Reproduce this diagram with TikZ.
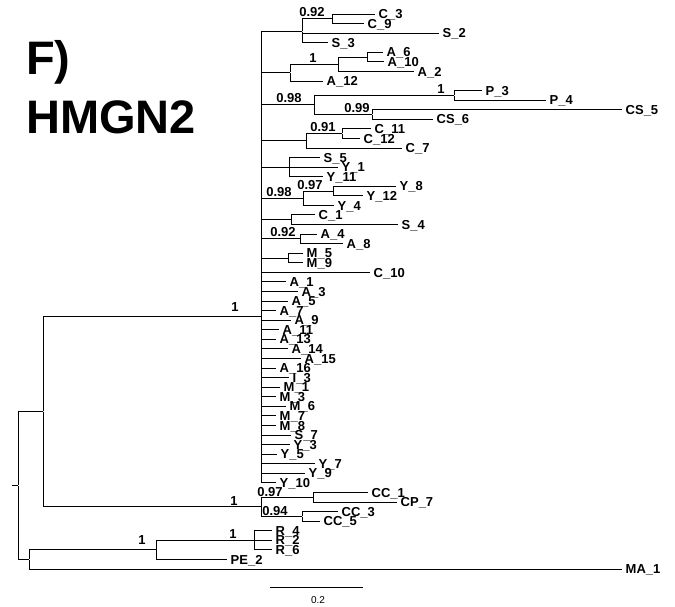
\documentclass[tikz,border=0pt]{standalone}
\usepackage{fontspec}
\setmainfont{Liberation Sans}
\usetikzlibrary{positioning}

\begin{document}
\begin{tikzpicture}[
  x=1pt, y=-1pt,
  branch/.style={draw=black, line width=0.9pt},
  junction/.style={inner sep=0pt, minimum size=0pt},
  leaf/.style={anchor=west, font=\bfseries\fontsize{13}{13}\selectfont, inner xsep=3.5pt, inner ysep=0pt, text height=9.3pt, text depth=0pt},
  boot/.style={font=\bfseries\fontsize{13}{13}\selectfont, inner sep=0pt},
  title/.style={font=\bfseries\fontsize{47}{47}\selectfont, inner sep=0pt, anchor=base west},
  scalelab/.style={font=\fontsize{10}{10}\selectfont, inner sep=0pt}]

\useasboundingbox (0,0) rectangle (675,607);

\node[title] (panel) at (26,75) {F)};
\node[title] (gene) at (26,134) {HMGN2};

\begin{scope}[y=-9.569pt, yshift=-4.431pt]
% tips, one row per taxon
\node[leaf] (C3) at (375,1) {C\_3};
\node[leaf] (C9) at (364,2) {C\_9};
\node[leaf] (S2) at (439,3) {S\_2};
\node[leaf] (S3) at (328,4) {S\_3};
\node[leaf] (A6) at (383,5) {A\_6};
\node[leaf] (A10) at (384,6) {A\_10};
\node[leaf] (A2) at (414,7) {A\_2};
\node[leaf] (A12) at (323,8) {A\_12};
\node[leaf] (P3) at (482,9) {P\_3};
\node[leaf] (P4) at (546,10) {P\_4};
\node[leaf] (CS5) at (622,11) {CS\_5};
\node[leaf] (CS6) at (433,12) {CS\_6};
\node[leaf] (C11) at (371,13) {C\_11};
\node[leaf] (C12) at (360,14) {C\_12};
\node[leaf] (C7) at (402,15) {C\_7};
\node[leaf] (S5) at (320,16) {S\_5};
\node[leaf] (Y1) at (338,17) {Y\_1};
\node[leaf] (Y11) at (323,18) {Y\_11};
\node[leaf] (Y8) at (396,19) {Y\_8};
\node[leaf] (Y12) at (363,20) {Y\_12};
\node[leaf] (Y4) at (334,21) {Y\_4};
\node[leaf] (C1) at (315,22) {C\_1};
\node[leaf] (S4) at (398,23) {S\_4};
\node[leaf] (A4) at (317,24) {A\_4};
\node[leaf] (A8) at (343,25) {A\_8};
\node[leaf] (M5) at (303,26) {M\_5};
\node[leaf] (M9) at (303,27) {M\_9};
\node[leaf] (C10) at (370,28) {C\_10};
\node[leaf] (A1) at (286,29) {A\_1};
\node[leaf] (A3) at (298,30) {A\_3};
\node[leaf] (A5) at (288,31) {A\_5};
\node[leaf] (A7) at (276,32) {A\_7};
\node[leaf] (A9) at (291,33) {A\_9};
\node[leaf] (A11) at (279,34) {A\_11};
\node[leaf] (A13) at (276,35) {A\_13};
\node[leaf] (A14) at (288,36) {A\_14};
\node[leaf] (A15) at (301,37) {A\_15};
\node[leaf] (A16) at (276,38) {A\_16};
\node[leaf] (I3) at (289,39) {I\_3};
\node[leaf] (M1) at (280,40) {M\_1};
\node[leaf] (M3) at (276,41) {M\_3};
\node[leaf] (M6) at (286,42) {M\_6};
\node[leaf] (M7) at (276,43) {M\_7};
\node[leaf] (M8) at (276,44) {M\_8};
\node[leaf] (S7) at (291,45) {S\_7};
\node[leaf] (Y3) at (290,46) {Y\_3};
\node[leaf] (Y5) at (277,47) {Y\_5};
\node[leaf] (Y7) at (315,48) {Y\_7};
\node[leaf] (Y9) at (305,49) {Y\_9};
\node[leaf] (Y10) at (276,50) {Y\_10};
\node[leaf] (CC1) at (368,51) {CC\_1};
\node[leaf] (CP7) at (397,52) {CP\_7};
\node[leaf] (CC3) at (338,53) {CC\_3};
\node[leaf] (CC5) at (320,54) {CC\_5};
\node[leaf] (R4) at (272,55) {R\_4};
\node[leaf] (R2) at (272,56) {R\_2};
\node[leaf] (R6) at (272,57) {R\_6};
\node[leaf] (PE2) at (227,58) {PE\_2};
\node[leaf] (MA1) at (622,59) {MA\_1};

% internal nodes
\coordinate (stub) at (12,50.27);
\node[junction] (nRoot) at (18,50.27) {};
\node[junction] (nTop) at (43,42.539) {};
\node[junction] (nRM) at (29,58) {};
\node[junction] (nMain) at (261,32.577) {};
\node[junction] (nCC) at (261,52.5) {};
\node[junction] (nCC1) at (313,51.5) {};
\node[junction] (nCC3) at (302,53.5) {};
\node[junction] (nRPE) at (156,57) {};
\node[junction] (nR) at (254,56) {};
\node[junction] (nCSS) at (302,2.833) {};
\node[junction] (nC39) at (332,1.5) {};
\node[junction] (nA12) at (290,7.125) {};
\node[junction] (nA2) at (338,6.25) {};
\node[junction] (nA610) at (367,5.5) {};
\node[junction] (nPCS) at (314,10.5) {};
\node[junction] (nP) at (454,9.5) {};
\node[junction] (nCS) at (372,11.5) {};
\node[junction] (nC7) at (306,14.25) {};
\node[junction] (nC1112) at (342,13.5) {};
\node[junction] (nY1) at (289,17) {};
\node[junction] (nY4) at (303,20.25) {};
\node[junction] (nY812) at (333,19.5) {};
\node[junction] (nS4) at (291,22.5) {};
\node[junction] (nA48) at (300,24.5) {};
\node[junction] (nM59) at (288,26.5) {};
\end{scope}

% branches
\draw[branch] (stub) -- (nRoot);
\draw[branch] (nRoot) |- (nTop) (nRoot) |- (nRM);
\draw[branch] (nTop) |- (nMain) (nTop) |- (nCC);
\draw[branch] (nRM) |- (nRPE) (nRM) |- (MA1.west);
\draw[branch] (nRPE) |- (nR) (nRPE) |- (PE2.west);
\draw[branch] (nR) |- (R4.west) (nR) |- (R2.west) (nR) |- (R6.west);
\draw[branch] (nCC) |- (nCC1) (nCC) |- (nCC3);
\draw[branch] (nCC1) |- (CC1.west) (nCC1) |- (CP7.west);
\draw[branch] (nCC3) |- (CC3.west) (nCC3) |- (CC5.west);

\draw[branch] (nMain) |- (nCSS) (nMain) |- (nA12) (nMain) |- (nPCS) (nMain) |- (nC7);
\draw[branch] (nMain) |- (nY1) (nMain) |- (nY4) (nMain) |- (nS4) (nMain) |- (nA48);
\draw[branch] (nMain) |- (nM59) (nMain) |- (C10.west);
\draw[branch] (nMain) |- (A1.west) (nMain) |- (A3.west) (nMain) |- (A5.west) (nMain) |- (A7.west);
\draw[branch] (nMain) |- (A9.west) (nMain) |- (A11.west) (nMain) |- (A13.west) (nMain) |- (A14.west);
\draw[branch] (nMain) |- (A15.west) (nMain) |- (A16.west) (nMain) |- (I3.west) (nMain) |- (M1.west);
\draw[branch] (nMain) |- (M3.west) (nMain) |- (M6.west) (nMain) |- (M7.west) (nMain) |- (M8.west);
\draw[branch] (nMain) |- (S7.west) (nMain) |- (Y3.west) (nMain) |- (Y5.west) (nMain) |- (Y7.west);
\draw[branch] (nMain) |- (Y9.west) (nMain) |- (Y10.west);

\draw[branch] (nCSS) |- (nC39) (nCSS) |- (S2.west) (nCSS) |- (S3.west);
\draw[branch] (nC39) |- (C3.west) (nC39) |- (C9.west);
\draw[branch] (nA12) |- (nA2) (nA12) |- (A12.west);
\draw[branch] (nA2) |- (nA610) (nA2) |- (A2.west);
\draw[branch] (nA610) |- (A6.west) (nA610) |- (A10.west);
\draw[branch] (nPCS) |- (nP) (nPCS) |- (nCS);
\draw[branch] (nP) |- (P3.west) (nP) |- (P4.west);
\draw[branch] (nCS) |- (CS5.west) (nCS) |- (CS6.west);
\draw[branch] (nC7) |- (nC1112) (nC7) |- (C7.west);
\draw[branch] (nC1112) |- (C11.west) (nC1112) |- (C12.west);
\draw[branch] (nY1) |- (S5.west) (nY1) |- (Y1.west) (nY1) |- (Y11.west);
\draw[branch] (nY4) |- (nY812) (nY4) |- (Y4.west);
\draw[branch] (nY812) |- (Y8.west) (nY812) |- (Y12.west);
\draw[branch] (nS4) |- (C1.west) (nS4) |- (S4.west);
\draw[branch] (nA48) |- (A4.west) (nA48) |- (A8.west);
\draw[branch] (nM59) |- (M5.west) (nM59) |- (M9.west);

% support values
\node[boot, above left=1.5pt and 7pt of nC39] (bC39) {0.92};
\node[boot, above left=1.5pt and 21pt of nA2] (bA2) {1};
\node[boot, above left=1.5pt and 12pt of nPCS] (bPCS) {0.98};
\node[boot, above left=1.5pt and 9pt of nP] (bP) {1};
\node[boot, above left=1.5pt and 2pt of nCS] (bCS) {0.99};
\node[boot, above left=1.5pt and 6pt of nC1112] (bC1112) {0.91};
\node[boot, above left=1pt and 11pt of nY4] (bY4) {0.98};
\node[boot, above left=1pt and 10pt of nY812] (bY812) {0.97};
\node[boot, above left=2pt and 4pt of nA48] (bA48) {0.92};
\node[boot, above left=4pt and 22pt of nMain] (bMain) {1};
\node[boot, above left=0.5pt and 30pt of nCC1] (bCC1) {0.97};
\node[boot, above left=0.5pt and 14pt of nCC3] (bCC3) {0.94};
\node[boot, above left=0.5pt and 23pt of nCC] (bCC) {1};
\node[boot, above left=1pt and 17pt of nR] (bR) {1};
\node[boot, above left=5pt and 10pt of nRPE] (bRPE) {1};

% scale bar
\coordinate (barL) at (270,587);
\coordinate (barR) at (363,587);
\draw[branch, line width=0.7pt] (barL) -- (barR);
\node[scalelab] (barlab) at (318,600.5) {0.2};
\end{tikzpicture}
\end{document}
